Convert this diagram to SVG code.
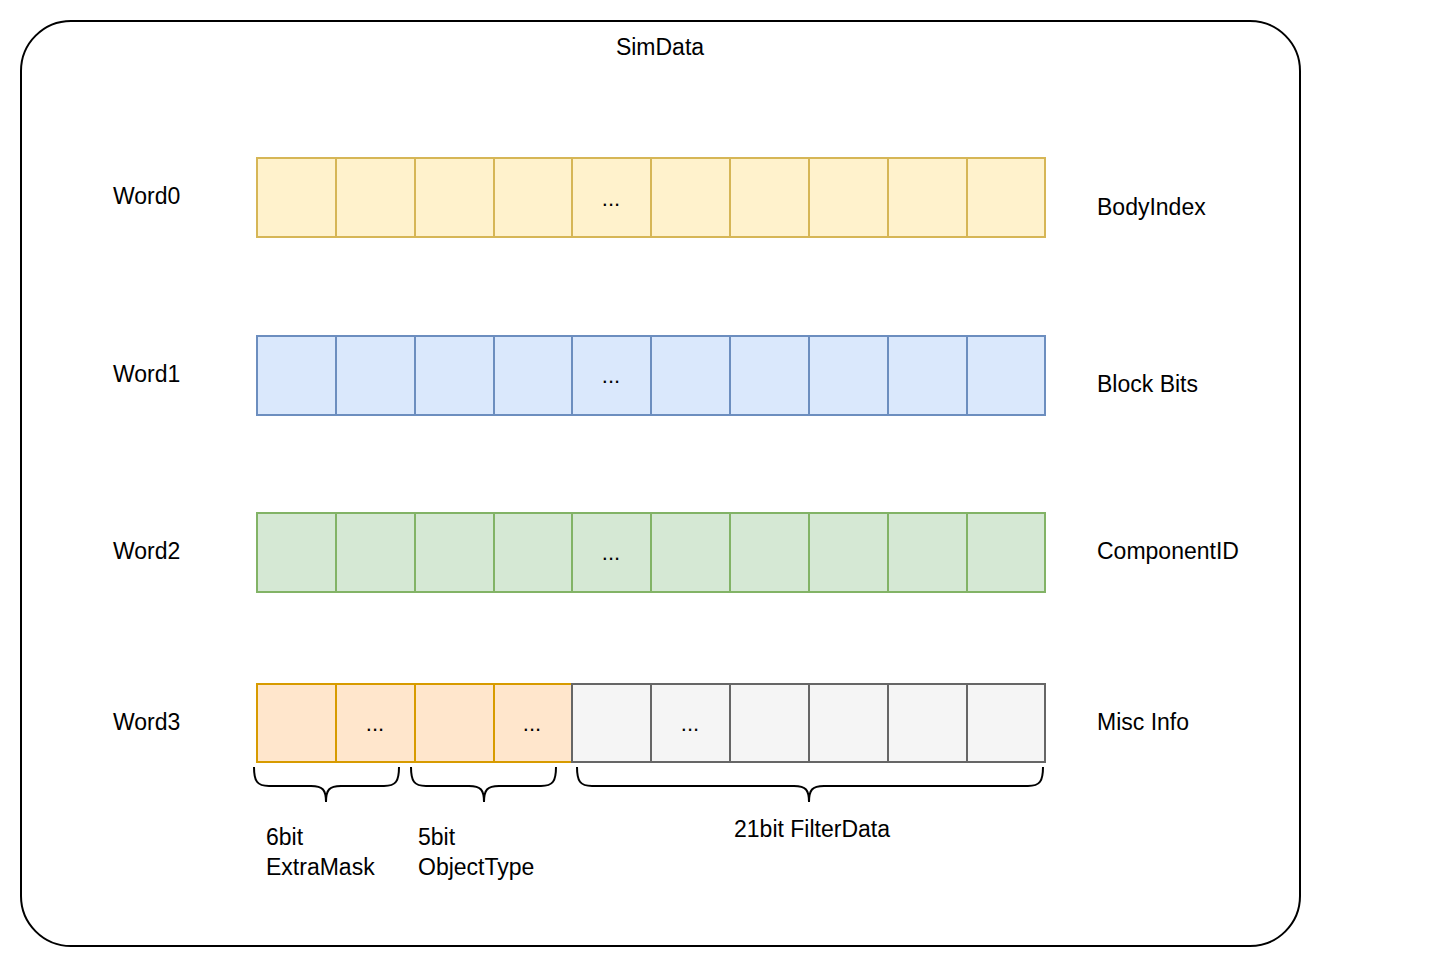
<svg xmlns="http://www.w3.org/2000/svg" width="1440" height="967" viewBox="0 0 1440 967">
<style>
text{font-family:"Liberation Sans",Arial,sans-serif;font-size:23px;fill:#000;stroke:none}
.dots{font-size:22px;text-anchor:middle}
.y{fill:#fff2cc;stroke:#d6b656;stroke-width:2}
.b{fill:#dae8fc;stroke:#6c8ebf;stroke-width:2}
.g{fill:#d5e8d4;stroke:#82b366;stroke-width:2}
.o{fill:#ffe6cc;stroke:#d79b00;stroke-width:2}
.gr{fill:#f5f5f5;stroke:#666666;stroke-width:2}
.br{fill:none;stroke:#000;stroke-width:2}
</style>
<defs>
<g id="row">
<rect x="257" y="0" width="79" height="79"/><rect x="336" y="0" width="79" height="79"/><rect x="415" y="0" width="79" height="79"/><rect x="494" y="0" width="78" height="79"/><rect x="572" y="0" width="79" height="79"/><rect x="651" y="0" width="79" height="79"/><rect x="730" y="0" width="79" height="79"/><rect x="809" y="0" width="79" height="79"/><rect x="888" y="0" width="79" height="79"/><rect x="967" y="0" width="78" height="79"/>
</g>
</defs>
<g id="simdata">
<rect x="21" y="21" width="1279" height="925" rx="50" ry="50" fill="#fff" stroke="#000" stroke-width="2"/>
<text x="660" y="55" text-anchor="middle">SimData</text>
</g>
<g id="word0">
<text x="113" y="204">Word0</text>
<use class="y" href="#row" transform="translate(0,158)"/>
<text class="dots" x="611" y="206">...</text>
<text x="1097" y="215">BodyIndex</text>
</g>
<g id="word1">
<text x="113" y="382">Word1</text>
<use class="b" href="#row" transform="translate(0,336)"/>
<text class="dots" x="611" y="383">...</text>
<text x="1097" y="392">Block Bits</text>
</g>
<g id="word2">
<text x="113" y="559">Word2</text>
<use class="g" href="#row" transform="translate(0,513)"/>
<text class="dots" x="611" y="560">...</text>
<text x="1097" y="559">ComponentID</text>
</g>
<g id="word3">
<text x="113" y="730">Word3</text>
<rect class="o" x="257" y="684" width="79" height="78"/>
<rect class="o" x="336" y="684" width="79" height="78"/>
<rect class="o" x="415" y="684" width="79" height="78"/>
<rect class="o" x="494" y="684" width="78" height="78"/>
<rect class="gr" x="572" y="684" width="79" height="78"/>
<rect class="gr" x="651" y="684" width="79" height="78"/>
<rect class="gr" x="730" y="684" width="79" height="78"/>
<rect class="gr" x="809" y="684" width="79" height="78"/>
<rect class="gr" x="888" y="684" width="79" height="78"/>
<rect class="gr" x="967" y="684" width="78" height="78"/>
<text class="dots" x="375" y="731">...</text>
<text class="dots" x="532" y="731">...</text>
<text class="dots" x="690" y="731">...</text>
<text x="1097" y="730">Misc Info</text>
</g>
<g id="braces">
<path class="br" d="M254 767 C254 781 257 786 269 786 L311 786 C323 786 326 790 326 802 C326 790 329 786 341 786 L384 786 C396 786 399 781 399 767"/>
<path class="br" d="M411 767 C411 781 414 786 426 786 L469 786 C481 786 484 790 484 802 C484 790 487 786 499 786 L541 786 C553 786 556 781 556 767"/>
<path class="br" d="M577 767 C577 781 580 786 592 786 L794 786 C806 786 809 790 809 802 C809 790 812 786 824 786 L1028 786 C1040 786 1043 781 1043 767"/>
</g>
<g id="labels">
<text x="266" y="845">6bit</text>
<text x="266" y="875">ExtraMask</text>
<text x="418" y="845">5bit</text>
<text x="418" y="875">ObjectType</text>
<text x="812" y="837" text-anchor="middle">21bit FilterData</text>
</g>
</svg>
